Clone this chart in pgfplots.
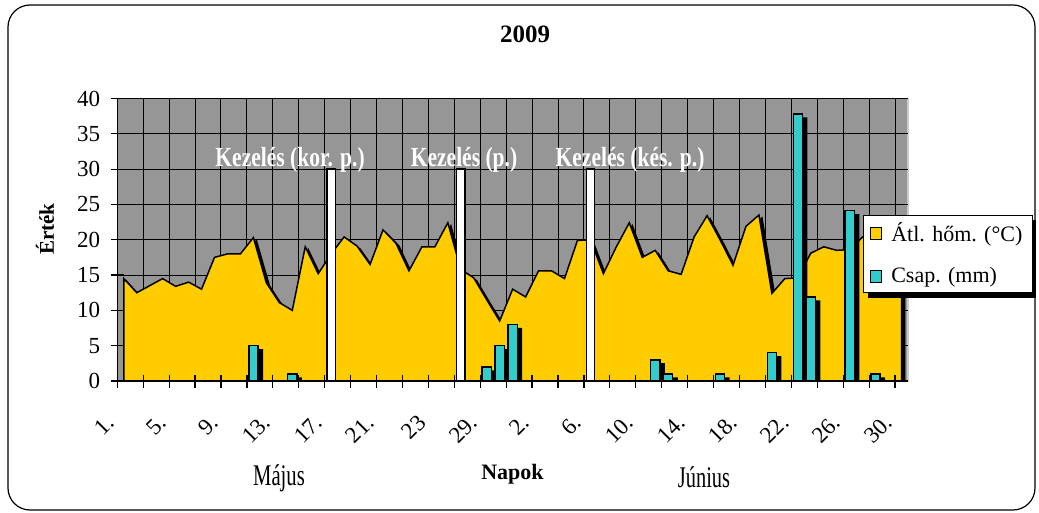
\documentclass[border=0pt]{standalone}
\usepackage{fontspec}
\setmainfont{Liberation Serif}
\usepackage{graphicx}
\usepackage{pgfplots}
\pgfplotsset{compat=1.18}
\usetikzlibrary{shadows}
\definecolor{plotgray}{RGB}{150,150,150}
\definecolor{ayellow}{RGB}{255,204,0}
\definecolor{acyan}{RGB}{51,204,204}
\makeatletter
\tikzset{no preactions/.code={\let\tikz@preactions\pgfutil@empty}}
\makeatother
\pgfplotsset{
  layers/my layer set/.define layer set={
    axis background,axis grid,main,axis ticks,axis lines,axis tick labels,axis descriptions,axis foreground
  }{/pgfplots/layers/standard},
}
\begin{document}
\begin{tikzpicture}
\draw[black, line width=0.6pt, rounded corners=11pt] (4pt,-2.5pt) rectangle (517.5pt,-255pt);
\begin{axis}[
  set layers=my layer set,
  at={(58.65pt,-190.5pt)}, anchor=south west,
  scale only axis, width=395.35pt, height=141.25pt,
  xmin=-0.5, xmax=60.5, ymin=0, ymax=40,
  axis background/.style={fill=plotgray, draw=gray!40, line width=0.6pt},
  axis x line*=bottom, axis y line*=left,
  axis line style={black, line width=0.8pt},
  xtick={0,4,...,60},
  xticklabels={1.,5.,9.,13.,17.,21.,23,29.,2.,6.,10.,14.,18.,22.,26.,30.},
  minor xtick={-0.5,1.5,...,59.5},
  ytick={0,5,...,40},
  minor ytick={0,5,...,40},
  major tick length=0pt, minor tick length=6.5pt,
  tick align=center,
  tick style={black, line width=0.6pt},
  ymajorgrids, xminorgrids, xmajorgrids=false,
  major grid style={black, line width=0.5pt},
  minor grid style={black, line width=0.5pt},
  /pgf/number format/assume math mode=true,
  yticklabel style={xshift=-5pt, font=\fontsize{11.5}{13}\selectfont},
  xticklabel style={font=\fontsize{11.5}{13}\selectfont, xshift=-4pt, yshift=-16.5pt, rotate=45, anchor=east},
  legend style={at={(0.943,0.588)}, anchor=north west, draw=black, line width=0.6pt,
    fill=white, font=\fontsize{11}{13}\selectfont, row sep=7.5pt, column sep=2.5pt,
    inner xsep=3pt, inner ysep=1.5pt,
    drop shadow={shadow xshift=2pt, shadow yshift=-2.5pt, opacity=1, fill=black}},
  legend cell align=left,
]
% area shadow
\addplot[fill=black, draw=black, line width=0.75pt, xshift=1.5pt, yshift=-1.5pt, forget plot] coordinates {
(0,14.5) (1,12.5) (2,13.5) (3,14.5) (4,13.4) (5,14.0) (6,13.0) (7,17.5) (8,18.0) (9,18.0)
(10,20.3) (11,13.9) (12,11.1) (13,10.0) (14,19.0) (15,15.2) (16,18.0) (17,20.4) (18,19.1) (19,16.5)
(20,21.4) (21,19.5) (22,15.6) (23,19.0) (24,19.0) (25,22.4) (26,15.8) (27,14.6) (28,11.5) (29,8.5)
(30,13.0) (31,11.9) (32,15.6) (33,15.6) (34,14.5) (35,19.9) (36,20.0) (37,15.2) (38,19.0) (39,22.4)
(40,17.5) (41,18.5) (42,15.6) (43,15.1) (44,20.4) (45,23.4) (46,20.0) (47,16.4) (48,21.9) (49,23.5)
(50,12.4) (51,14.5) (52,14.6) (53,18.1) (54,19.0) (55,18.5) (56,18.6) (57,20.4) (58,21.0) (59,20.5)
(60,21.0)} \closedcycle;
% area
\addplot[fill=ayellow, draw=black, line width=0.75pt,
  legend image code/.code={\draw[no preactions, fill=ayellow, draw=black, line width=0.6pt] (1.5pt,-2.9pt) rectangle (7.3pt,2.9pt);}] coordinates {
(0,14.5) (1,12.5) (2,13.5) (3,14.5) (4,13.4) (5,14.0) (6,13.0) (7,17.5) (8,18.0) (9,18.0)
(10,20.3) (11,13.9) (12,11.1) (13,10.0) (14,19.0) (15,15.2) (16,18.0) (17,20.4) (18,19.1) (19,16.5)
(20,21.4) (21,19.5) (22,15.6) (23,19.0) (24,19.0) (25,22.4) (26,15.8) (27,14.6) (28,11.5) (29,8.5)
(30,13.0) (31,11.9) (32,15.6) (33,15.6) (34,14.5) (35,19.9) (36,20.0) (37,15.2) (38,19.0) (39,22.4)
(40,17.5) (41,18.5) (42,15.6) (43,15.1) (44,20.4) (45,23.4) (46,20.0) (47,16.4) (48,21.9) (49,23.5)
(50,12.4) (51,14.5) (52,14.6) (53,18.1) (54,19.0) (55,18.5) (56,18.6) (57,20.4) (58,21.0) (59,20.5)
(60,21.0)} \closedcycle;
\addlegendentry{Átl. hőm. (°C)}
% bar shadows
\addplot[ybar, bar shift=0pt, bar width=4.6pt, fill=black, draw=none, xshift=2.5pt, yshift=-1.7pt, forget plot] coordinates {
(10,5.0) (13,1.0) (28,2.0) (29,5.0) (30,8.0) (41,3.0) (42,1.0) (46,1.0) (50,4.0) (52,37.8) (53,11.9) (56,24.1) (58,1.0)};
% precipitation bars
\addplot[ybar, bar shift=0pt, bar width=4.6pt, fill=acyan, draw=black, line width=0.7pt,
  legend image code/.code={\draw[no preactions, fill=acyan, draw=black, line width=0.6pt] (1.5pt,-2.9pt) rectangle (7.3pt,2.9pt);}] coordinates {
(10,5.0) (13,1.0) (28,2.0) (29,5.0) (30,8.0) (41,3.0) (42,1.0) (46,1.0) (50,4.0) (52,37.8) (53,11.9) (56,24.1) (58,1.0)};
\addlegendentry{Csap. (mm)}
% treatment bars
\addplot[ybar, bar shift=0pt, bar width=4.2pt, fill=white, draw=black, line width=0.7pt, forget plot] coordinates {
(16,30) (26,30) (36,30)};
\node[text=white, font=\bfseries\fontsize{13.8}{15}\selectfont, anchor=base] at (axis cs:12.83,30.35) {\scalebox{0.78}[1]{Kezelés (kor. p.)}};
\node[text=white, font=\bfseries\fontsize{13.8}{15}\selectfont, anchor=base] at (axis cs:26.25,30.35) {\scalebox{0.78}[1]{Kezelés (p.)}};
\node[text=white, font=\bfseries\fontsize{13.8}{15}\selectfont, anchor=base] at (axis cs:39.06,30.35) {\scalebox{0.78}[1]{Kezelés (kés. p.)}};
\end{axis}
\node[anchor=base, font=\bfseries\fontsize{12.5}{14}\selectfont] at (262.5pt,-21.5pt) {2009};
\node[rotate=90, font=\bfseries\fontsize{10.5}{12}\selectfont] at (22.5pt,-114.5pt) {Érték};
\node[anchor=base, font=\fontsize{15}{17}\selectfont] at (139.5pt,-242.5pt) {\scalebox{0.69}[1]{Május}};
\node[anchor=base, font=\bfseries\fontsize{11}{13}\selectfont] at (256.25pt,-239.5pt) {Napok};
\node[anchor=base, font=\fontsize{15}{17}\selectfont] at (352pt,-243.5pt) {\scalebox{0.68}[1]{Június}};
\pgfresetboundingbox
\path[use as bounding box] (0,0) rectangle (519.5pt,-256.5pt);
\end{tikzpicture}
\end{document}
